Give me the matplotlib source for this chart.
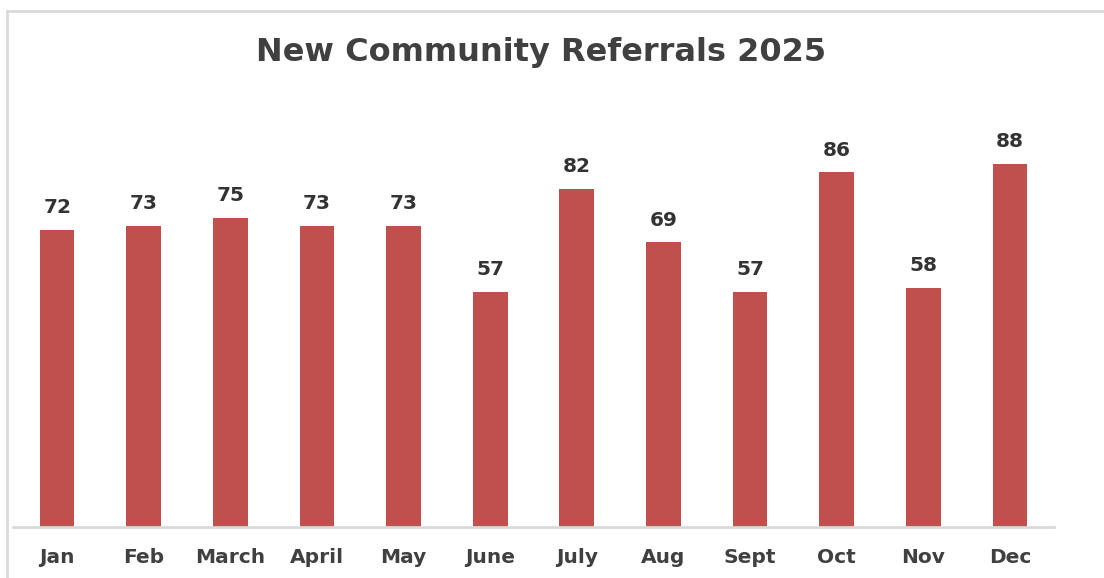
import matplotlib.pyplot as plt
from matplotlib.patches import Rectangle

months = ['Jan', 'Feb', 'March', 'April', 'May', 'June', 'July', 'Aug', 'Sept', 'Oct', 'Nov', 'Dec']
referrals = [72, 73, 75, 73, 73, 57, 82, 69, 57, 86, 58, 88]

W, H = 1104, 578
fig = plt.figure(figsize=(W / 100, H / 100), dpi=100)

# chart area border (light gray), runs off the right and bottom edges
fig.patches.append(Rectangle((7 / W, -0.1), 1.2, (H - 11) / H + 0.1, transform=fig.transFigure,
                             fill=False, edgecolor='#d9d9d9', linewidth=2))

ax = fig.add_axes([13 / W, (H - 527) / H, 1041 / W, 427 / H])
x = list(range(len(months)))
bars = ax.bar(x, referrals, width=0.40, color='#C0504D', zorder=2)

for xi, v in zip(x, referrals):
    ax.annotate(str(v), (xi, v), xytext=(0, 9), textcoords='offset points',
                ha='center', va='bottom', fontsize=14.5, fontweight='bold', color='#333333')

ax.set_xlim(-0.51, 11.51)
ax.set_ylim(0, 103.5)
ax.set_xticks(x)
ax.set_xticklabels(months, fontsize=14.5, fontweight='bold', color='#404040')
ax.tick_params(axis='x', length=0, pad=15)
ax.set_yticks([])
for side in ['top', 'right', 'left']:
    ax.spines[side].set_visible(False)
ax.spines['bottom'].set_color('#d9d9d9')
ax.spines['bottom'].set_linewidth(2)

fig.text(541 / W, 1 - 52 / H, 'New Community Referrals 2025', ha='center', va='center',
         fontsize=23, fontweight='bold', color='#404040')

fig.savefig('out.png', dpi=100)
